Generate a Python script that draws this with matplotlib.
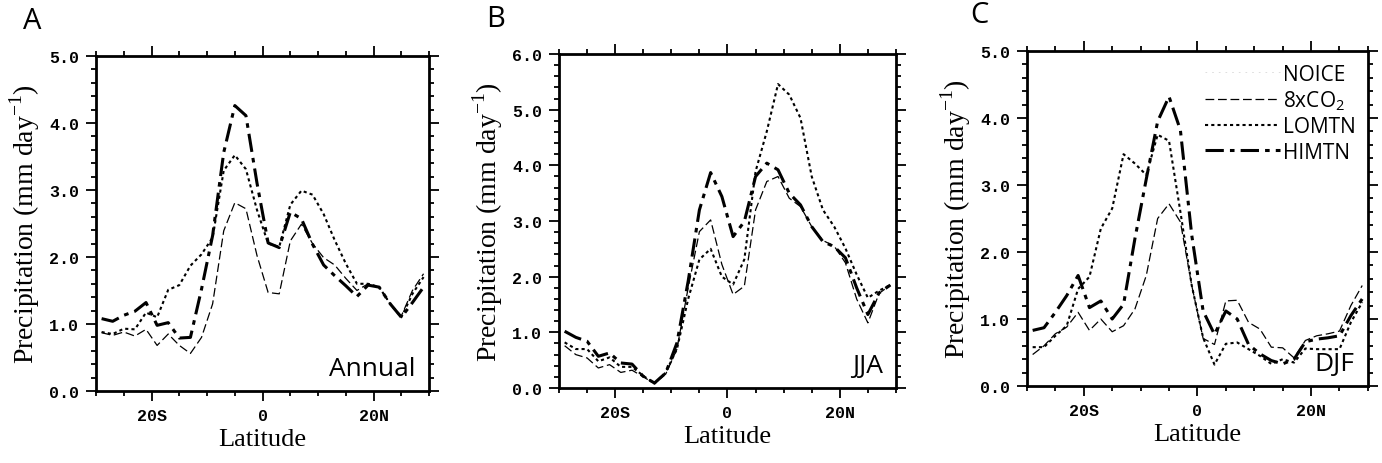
import matplotlib
matplotlib.use('Agg')
import matplotlib.pyplot as plt
import numpy as np

# Latitude of the model grid rows (odd degrees, 29S..29N)
lat = list(range(-29, 30, 2))

# Panel A - Annual
ann_himtn = [1.08, 1.04, 1.13, 1.19, 1.32, 0.98, 1.02, 0.79, 0.80, 1.52, 2.32, 3.56, 4.26, 4.11, 3.10,
             2.21, 2.14, 2.67, 2.57, 2.19, 1.88, 1.72, 1.57, 1.41, 1.58, 1.55, 1.30, 1.10, 1.32, 1.55]
ann_lomtn = [0.88, 0.85, 0.93, 0.92, 1.17, 1.10, 1.51, 1.58, 1.87, 2.04, 2.29, 3.29, 3.52, 3.31, 2.70,
             2.20, 2.15, 2.78, 2.99, 2.93, 2.64, 2.25, 1.90, 1.60, 1.60, 1.55, 1.30, 1.10, 1.45, 1.70]
ann_8xco2 = [0.87, 0.83, 0.88, 0.82, 0.92, 0.68, 0.85, 0.68, 0.56, 0.80, 1.30, 2.39, 2.81, 2.72, 2.02,
             1.47, 1.45, 2.24, 2.49, 2.20, 1.99, 1.88, 1.68, 1.50, 1.60, 1.55, 1.30, 1.12, 1.50, 1.75]

# Panel B - JJA
jja_himtn = [1.02, 0.91, 0.84, 0.57, 0.63, 0.45, 0.43, 0.21, 0.09, 0.27, 0.81, 1.92, 3.20, 3.87, 3.44,
             2.72, 2.99, 3.80, 4.04, 3.92, 3.50, 3.29, 2.90, 2.63, 2.54, 2.34, 1.80, 1.32, 1.71, 1.85]
jja_lomtn = [0.82, 0.70, 0.70, 0.48, 0.55, 0.38, 0.38, 0.22, 0.08, 0.28, 0.70, 1.60, 2.31, 2.50, 2.00,
             1.86, 2.31, 3.89, 4.61, 5.46, 5.27, 4.85, 3.80, 3.20, 2.90, 2.51, 2.04, 1.62, 1.75, 1.85]
jja_8xco2 = [0.76, 0.60, 0.54, 0.36, 0.42, 0.28, 0.32, 0.20, 0.08, 0.25, 0.70, 1.80, 2.81, 3.02, 2.22,
             1.68, 1.83, 3.20, 3.71, 3.80, 3.41, 3.26, 2.90, 2.65, 2.55, 2.25, 1.60, 1.17, 1.70, 1.85]

# Panel C - DJF
djf_himtn = [0.83, 0.87, 1.10, 1.35, 1.65, 1.17, 1.27, 1.00, 1.22, 2.20, 3.09, 3.95, 4.32, 3.82, 2.25,
             1.12, 0.77, 1.12, 1.00, 0.62, 0.48, 0.38, 0.33, 0.40, 0.66, 0.70, 0.72, 0.75, 1.05, 1.30]
djf_lomtn = [0.58, 0.58, 0.75, 0.90, 1.45, 1.63, 2.35, 2.65, 3.46, 3.32, 3.15, 3.75, 3.66, 2.60, 1.50,
             0.72, 0.32, 0.63, 0.65, 0.55, 0.45, 0.33, 0.40, 0.35, 0.56, 0.55, 0.55, 0.55, 0.95, 1.25]
djf_8xco2 = [0.47, 0.60, 0.78, 0.88, 1.10, 0.83, 1.00, 0.81, 0.90, 1.15, 1.65, 2.50, 2.72, 2.45, 1.50,
             0.71, 0.62, 1.27, 1.28, 0.95, 0.85, 0.58, 0.57, 0.42, 0.68, 0.75, 0.78, 0.82, 1.20, 1.50]

panels = [
    ('A', 'Annual', 5.0, ann_8xco2, ann_lomtn, ann_himtn),
    ('B', 'JJA', 6.0, jja_8xco2, jja_lomtn, jja_himtn),
    ('C', 'DJF', 5.0, djf_8xco2, djf_lomtn, djf_himtn),
]

# axes boxes in figure fraction [left, bottom, width, height]
boxes = [
    [0.0695, 0.1552, 0.2410, 0.7220],
    [0.4045, 0.1616, 0.2438, 0.7198],
    [0.7431, 0.1659, 0.2467, 0.7220],
]
letter_pos = [(0.017, 0.953), (0.352, 0.958), (0.702, 0.966)]

tick_font = dict(family='Liberation Mono', weight='bold', size=12)

fig = plt.figure(figsize=(13.82, 4.64), dpi=100)

for i, (letter, season, ymax, co2, lo, hi) in enumerate(panels):
    ax = fig.add_axes(boxes[i])

    ax.plot(lat, co2, color='black', lw=0.9, ls=(0, (7, 3)), label='8xCO$_\\mathregular{2}$')
    ax.plot(lat, lo, color='black', lw=1.5, ls=(0, (1.5, 1.5)), label='LOMTN')
    ax.plot(lat, hi, color='black', lw=2.2, ls=(0, (6, 2, 1.5, 2)), label='HIMTN')

    ax.set_xlim(-30, 30)
    ax.set_ylim(0, ymax)
    ax.set_xticks([-20, 0, 20])
    ax.set_xticklabels(['20S', '0', '20N'], fontdict=tick_font)
    ax.set_xticks(np.arange(-30, 31, 5), minor=True)
    yt = np.arange(0, ymax + 0.01, 1.0)
    ax.set_yticks(yt)
    ax.set_yticklabels(['%.1f' % v for v in yt], fontdict=tick_font)
    ax.set_yticks(np.arange(0, ymax + 0.01, 0.2), minor=True)
    ax.tick_params(which='both', direction='out', top=True, right=True, width=1.3, colors='black')
    ax.tick_params(which='major', length=7, pad=5)
    ax.tick_params(which='minor', length=3.5)
    for s in ax.spines.values():
        s.set_linewidth(2.0)

    ax.set_xlabel('Latitude', family='Liberation Serif', fontsize=19, labelpad=4)
    ax.set_ylabel('Precipitation (mm day$^{\\mathregular{-1}}$)', family='Liberation Serif',
                  fontsize=20, labelpad=5)

    ax.text(0.96, 0.03, season, transform=ax.transAxes, ha='right', va='bottom',
            family='Open Sans', fontsize=19)
    fig.text(letter_pos[i][0], letter_pos[i][1], letter, ha='left', va='center',
             family='Open Sans', fontsize=21)

    if letter == 'C':
        noice, = ax.plot([], [], color='#d8d8d8', lw=0.6, ls=(0, (2, 6)), label='NOICE')
        h, l = ax.get_legend_handles_labels()
        order = [3, 0, 1, 2]
        leg = ax.legend([h[k] for k in order], [l[k] for k in order], loc='upper right',
                        frameon=False, handlelength=3.6, handletextpad=0.15,
                        labelspacing=0.2, borderaxespad=0.4, borderpad=0.2,
                        prop=dict(family='Open Sans', size=15))

plt.savefig('out.png', dpi=100)
